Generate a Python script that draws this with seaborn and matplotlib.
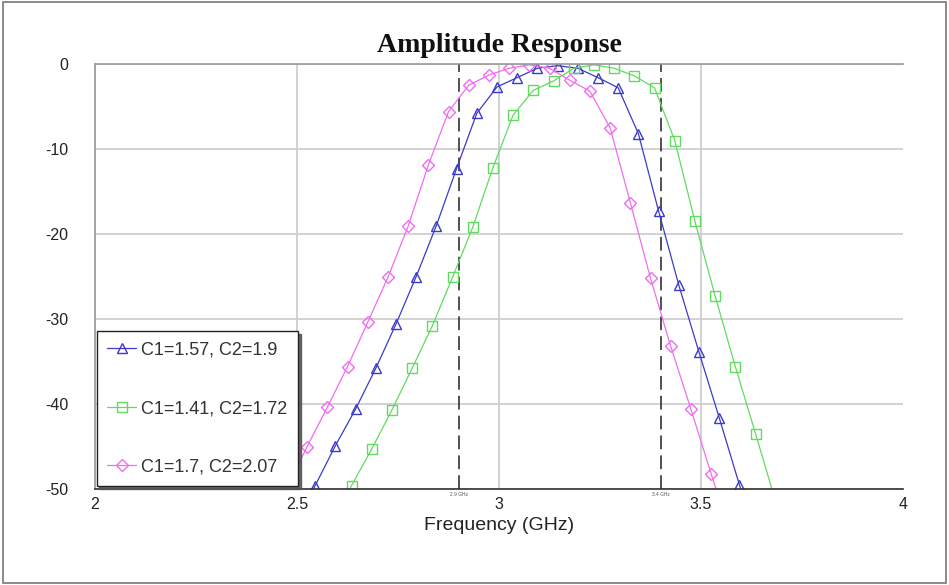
import matplotlib
matplotlib.use("Agg")
import matplotlib.pyplot as plt
import seaborn as sns
import pandas as pd
from matplotlib.patches import Rectangle

# ---- data ----
freq_blue = [2.495, 2.545, 2.595, 2.645, 2.695, 2.745, 2.795, 2.845, 2.895, 2.945, 2.995,
             3.045, 3.095, 3.145, 3.195, 3.245, 3.295, 3.345, 3.395, 3.445, 3.495,
             3.545, 3.595, 3.645]
amp_blue = [-54.5, -49.6, -44.9, -40.6, -35.8, -30.6, -25.0, -19.0, -12.3, -5.8, -2.7,
            -1.6, -0.5, -0.2, -0.5, -1.6, -2.8, -8.2, -17.3, -26.0, -33.9,
            -41.6, -49.5, -57.0]

freq_green = [2.585, 2.635, 2.685, 2.735, 2.785, 2.835, 2.885, 2.935, 2.985, 3.035, 3.085,
              3.135, 3.185, 3.235, 3.285, 3.335, 3.385, 3.435, 3.485, 3.535, 3.585,
              3.635, 3.685]
amp_green = [-54.0, -49.6, -45.3, -40.7, -35.8, -30.8, -25.1, -19.2, -12.2, -6.0, -3.1,
             -2.0, -0.5, -0.1, -0.5, -1.4, -2.8, -9.0, -18.5, -27.3, -35.6,
             -43.5, -51.5]

freq_pink = [2.475, 2.525, 2.575, 2.625, 2.675, 2.725, 2.775, 2.825, 2.875, 2.925, 2.975,
             3.025, 3.075, 3.125, 3.175, 3.225, 3.275, 3.325, 3.375, 3.425, 3.475,
             3.525, 3.575]
amp_pink = [-50.0, -45.0, -40.4, -35.6, -30.4, -25.1, -19.1, -11.9, -5.6, -2.5, -1.3,
            -0.5, -0.1, -0.5, -1.9, -3.2, -7.5, -16.3, -25.2, -33.2, -40.6,
            -48.2, -55.5]

labels = ["C1=1.57, C2=1.9", "C1=1.41, C2=1.72", "C1=1.7, C2=2.07"]
colors = ["#3b3bc8", "#5fdc5f", "#f06cf0"]
markers = ["^", "s", "D"]

marker_lines = [2.9, 3.4]
marker_labels = ["2.9 GHz", "3.4 GHz"]
xticks = [2, 2.5, 3, 3.5, 4]
xtick_labels = ["2", "2.5", "3", "3.5", "4"]
yticks = [0, -10, -20, -30, -40, -50]

sns.set_theme(style="white")
plt.rcParams["font.family"] = ["Liberation Sans", "DejaVu Sans"]
plt.rcParams["axes.unicode_minus"] = False

fig = plt.figure(figsize=(9.49, 5.85), dpi=100)
ax = fig.add_axes([95 / 949, 1 - 489 / 585, 808 / 949, 425 / 585])

series = [(freq_blue, amp_blue), (freq_green, amp_green), (freq_pink, amp_pink)]
sizes = {"^": 7.5, "s": 7, "D": 6.5}
for (f, a), lab, c, m in zip(series, labels, colors, markers):
    df = pd.DataFrame({"f": f, "a": a})
    sns.lineplot(data=df, x="f", y="a", ax=ax, color=c, lw=0.9, marker=m,
                 markersize=sizes[m], markerfacecolor="none", markeredgecolor=c,
                 markeredgewidth=1.0, label=lab, sort=False, estimator=None)

for xv, lab in zip(marker_lines, marker_labels):
    ax.axvline(xv, color="#222222", lw=1.1, ls=(0, (9, 4)), zorder=1.5)
    ax.text(xv, -50.4, lab, fontsize=3.5, ha="center", va="top", color="#555555")

ax.set_xlim(2, 4)
ax.set_ylim(-50, 0)
ax.set_xticks(xticks)
ax.set_xticklabels(xtick_labels)
ax.set_yticks(yticks)
ax.tick_params(axis="both", length=0, labelsize=11.5, colors="#222222")
ax.tick_params(axis="y", pad=19)
ax.tick_params(axis="x", pad=6)
ax.grid(True, color="#cfcfcf", lw=1.3)
ax.xaxis.get_gridlines()[-1].set_visible(False)
ax.set_axisbelow(True)
ax.set_xlabel("Frequency (GHz)", fontsize=14, color="#222222", labelpad=3)
ax.set_ylabel("")
ax.set_title("Amplitude Response", fontsize=20, fontweight="bold", color="#111111",
             family=["Liberation Serif", "DejaVu Serif"], pad=9)

for s in ["top", "left"]:
    ax.spines[s].set_color("#9a9a9a")
    ax.spines[s].set_linewidth(1.2)
ax.spines["bottom"].set_color("#333333")
ax.spines["bottom"].set_linewidth(1.2)
ax.spines["right"].set_visible(False)

leg = ax.legend(loc="lower left", bbox_to_anchor=(0.002, 0.006), frameon=True,
                fancybox=False, shadow={"color": "#555555", "alpha": 0.9}, fontsize=13,
                labelspacing=2.3, handlelength=1.6, handletextpad=0.25,
                borderpad=0.6, borderaxespad=0.0)
leg.get_frame().set_edgecolor("#222222")
leg.get_frame().set_linewidth(1.0)
leg.get_frame().set_alpha(1.0)
for t in leg.get_texts():
    t.set_color("#333333")

fig.patches.append(Rectangle((0.003, 0.003), 0.994, 0.994, transform=fig.transFigure,
                             fill=False, edgecolor="#777777", lw=1.2))

fig.savefig("out.png", dpi=100)
